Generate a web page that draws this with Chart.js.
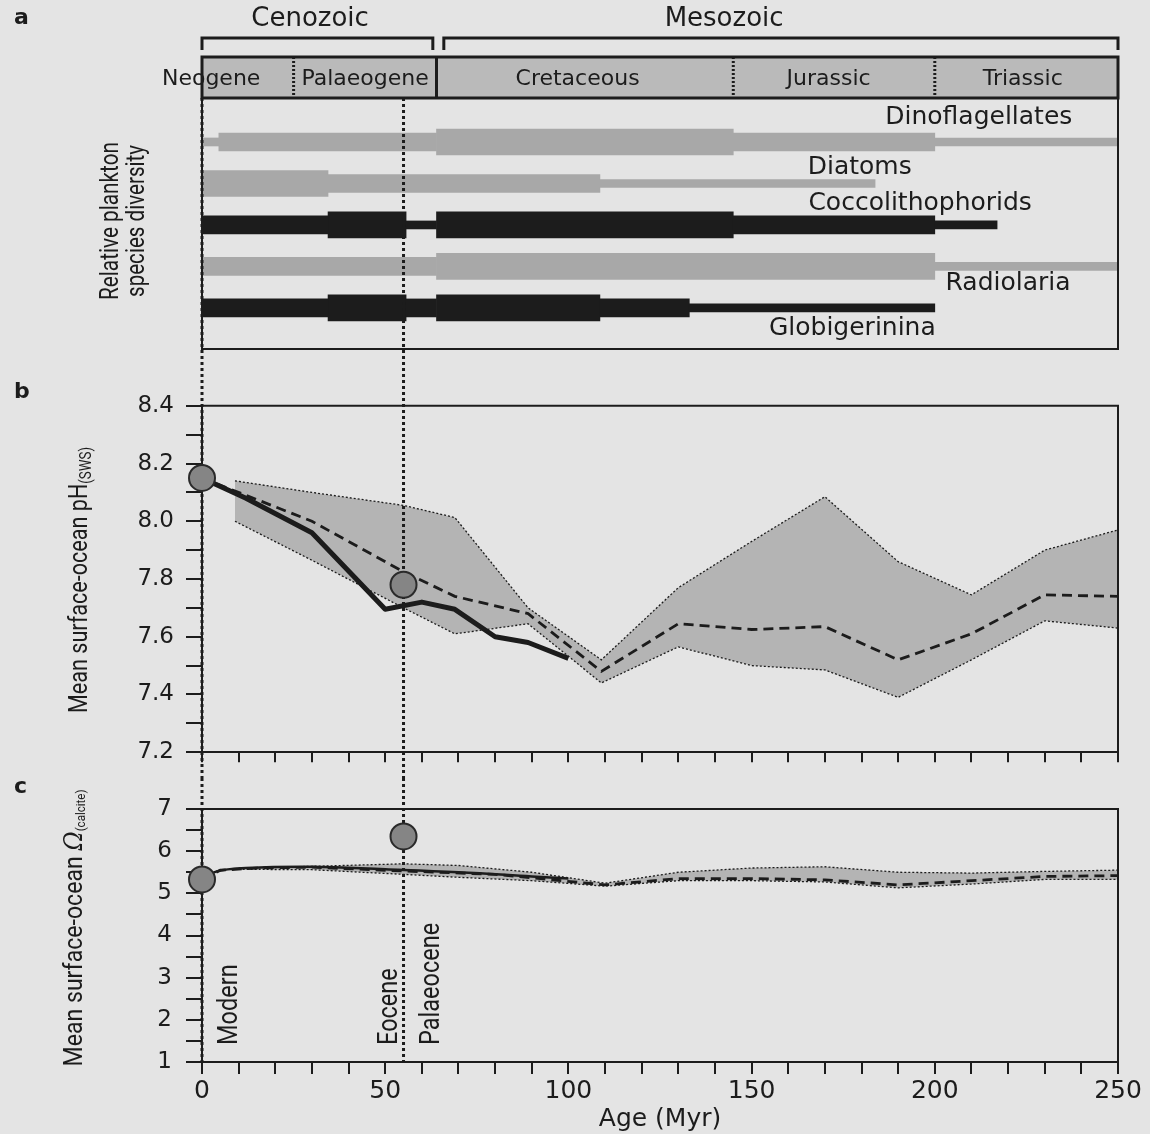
<!DOCTYPE html>
<html>
<head>
<meta charset="utf-8">
<script src="https://cdn.jsdelivr.net/npm/chart.js@4.4.1/dist/chart.umd.min.js"></script>
<style>
  body { margin: 0; background: #e4e4e4; width: 1150px; height: 1134px; overflow: hidden; position: relative; }
  canvas { position: absolute; left: 0; }
</style>
</head>
<body>
<canvas id="chartA" width="1150" height="380" style="top:0"></canvas>
<canvas id="chartB" width="1150" height="398" style="top:380px"></canvas>
<canvas id="chartC" width="1150" height="356" style="top:778px"></canvas>
<script>
// ---- panel a : time scale + plankton diversity
const eraNames = ["Cenozoic", "Mesozoic"];
const eraStart = [0, 66];
const eraEnd = [63, 250];
const eraLabelAge = [29.5, 142.5];

const periodNames = ["Neogene", "Palaeogene", "Cretaceous", "Jurassic", "Triassic"];
const periodBounds = [0, 25, 64, 145, 200, 250];
const periodLabelAge = [2.5, 44.5, 102.5, 171, 224];
const periodBreakSolid = [false, true, false, false];

const species = ["Dinoflagellates", "Diatoms", "Coccolithophorids", "Radiolaria", "Globigerinina"];
const speciesDark = [false, false, true, false, true];
const speciesLabelAge = [212, 179.5, 196, 220, 177.5];

// segments: [from Myr, to Myr, width class 1 = narrow, 2 = mid, 3 = wide]
const dinoflagellates = [[0, 4.6, 1], [4.6, 64, 2], [64, 145, 3], [145, 200, 2], [200, 250, 1]];
const diatoms = [[0, 34.4, 3], [34.4, 108.6, 2], [108.6, 183.7, 1]];
const coccolithophorids = [[0, 34.4, 2], [34.4, 55.7, 3], [55.7, 64, 1], [64, 145, 3], [145, 200, 2], [200, 217, 1]];
const radiolaria = [[0, 64, 2], [64, 200, 3], [200, 250, 1]];
const globigerinina = [[0, 34.4, 2], [34.4, 55.7, 3], [55.7, 64, 2], [64, 108.6, 3], [108.6, 133, 2], [133, 200, 1]];

// ---- shared markers
const markerAges = [0, 55];
const epochNames = ["Modern", "Eocene", "Palaeocene"];
const epochLabelAge = [7.6, 51.3, 62.8];

// ---- panel b : pH
const phAnchorAge = [0, 55];
const phAnchor = [8.15, 7.78];
const phRecordAge = [0, 12, 30, 50, 60, 69, 80, 89, 100];
const phRecord = [8.15, 8.08, 7.96, 7.695, 7.72, 7.695, 7.6, 7.58, 7.525];
const phModelAge = [0, 12, 30, 55, 69, 89, 109, 130, 150, 170, 190, 210, 230, 250];
const phModel = [8.15, 8.09, 8.0, 7.825, 7.74, 7.68, 7.48, 7.645, 7.625, 7.635, 7.52, 7.61, 7.745, 7.74];
const phBandAge = [9, 30, 55, 69, 89, 109, 130, 150, 170, 190, 210, 230, 250];
const phHigh = [8.14, 8.1, 8.055, 8.013, 7.7, 7.52, 7.77, 7.93, 8.085, 7.86, 7.745, 7.9, 7.97];
const phLow = [8.0, 7.865, 7.7, 7.61, 7.645, 7.44, 7.565, 7.5, 7.485, 7.39, 7.52, 7.655, 7.63];

// ---- panel c : omega calcite
const omAnchorAge = [0, 55];
const omAnchor = [5.33, 6.35];
const omRecordAge = [0, 4, 12, 30, 50, 70, 90, 100];
const omRecord = [5.33, 5.52, 5.6, 5.63, 5.57, 5.5, 5.4, 5.35];
const omModelAge = [0, 5, 15, 30, 55, 80, 110, 130, 150, 170, 190, 210, 230, 250];
const omModel = [5.33, 5.55, 5.6, 5.62, 5.53, 5.45, 5.2, 5.35, 5.35, 5.32, 5.2, 5.3, 5.4, 5.42];
const omBandAge = [10, 30, 55, 70, 90, 110, 130, 150, 170, 190, 210, 230, 250];
const omHigh = [5.6, 5.64, 5.7, 5.66, 5.5, 5.24, 5.5, 5.6, 5.63, 5.5, 5.48, 5.52, 5.55];
const omLow = [5.57, 5.56, 5.45, 5.38, 5.3, 5.17, 5.3, 5.3, 5.27, 5.13, 5.22, 5.33, 5.33];

const ink = "#1c1c1c";
const barGrey = "#a8a8a8";
const bandGrey = "#b4b4b4";
const stripGrey = "#bababa";
const dotGrey = "#858585";
const sans = "'DejaVu Sans', 'Open Sans', sans-serif";
const narrow = "Roboto, 'Liberation Sans', sans-serif";

const pts = (xs, ys) => xs.map((x, i) => ({ x, y: ys[i] }));

function dotted(ctx, x, y0, y1) {
  ctx.save();
  ctx.strokeStyle = ink;
  ctx.lineWidth = 3;
  ctx.setLineDash([3, 3]);
  ctx.beginPath();
  ctx.moveTo(x, y0);
  ctx.lineTo(x, y1);
  ctx.stroke();
  ctx.restore();
}

// vertical text centred on (cx, cy), squeezed to span `len` px; parts = [{t, f, dy}]
function vText(ctx, cx, cy, len, parts) {
  ctx.save();
  ctx.translate(cx, cy);
  ctx.rotate(-Math.PI / 2);
  ctx.fillStyle = ink;
  ctx.textBaseline = "middle";
  ctx.textAlign = "left";
  let total = 0;
  parts.forEach(p => { ctx.font = p.f; p.w = ctx.measureText(p.t).width; total += p.w; });
  ctx.scale(len / total, 1);
  let pos = -total / 2;
  parts.forEach(p => { ctx.font = p.f; ctx.fillText(p.t, pos, p.dy || 0); pos += p.w; });
  ctx.restore();
}

function letter(ctx, t, x, y) {
  ctx.save();
  ctx.fillStyle = ink;
  ctx.font = `bold 22px ${sans}`;
  ctx.textAlign = "left";
  ctx.textBaseline = "middle";
  ctx.fillText(t, x, y);
  ctx.restore();
}

function frameTopRight(chart) {
  const { ctx, chartArea: a } = chart;
  ctx.save();
  ctx.strokeStyle = ink;
  ctx.lineWidth = 2;
  ctx.beginPath();
  ctx.moveTo(a.left, a.top);
  ctx.lineTo(a.right, a.top);
  ctx.lineTo(a.right, a.bottom);
  ctx.stroke();
  ctx.restore();
}

// ---------- chart a
const segmentsBySpecies = [dinoflagellates, diatoms, coccolithophorids, radiolaria, globigerinina];
const widthPx = [0, 8, 18, 26];
const barDatasets = [];
[false, true].forEach(dark => {
  [1, 2, 3].forEach(cls => {
    const data = [];
    segmentsBySpecies.forEach((segs, i) => {
      if (speciesDark[i] !== dark) return;
      segs.filter(s => s[2] === cls).forEach(s => data.push({ x: [s[0], s[1]], y: i + 1 }));
    });
    barDatasets.push({
      data,
      backgroundColor: dark ? ink : barGrey,
      barThickness: widthPx[cls],
      grouped: false,
      borderWidth: 0
    });
  });
});

const diversityPlugin = {
  id: "diversity",
  afterDraw(chart) {
    const { ctx, chartArea: a, scales: { x, y } } = chart;
    ctx.save();
    ctx.strokeStyle = ink;
    ctx.fillStyle = ink;
    ctx.lineWidth = 2;
    ctx.strokeRect(a.left, a.top, a.right - a.left, a.bottom - a.top);

    // era brackets
    ctx.lineWidth = 3;
    ctx.textAlign = "center";
    ctx.textBaseline = "middle";
    eraNames.forEach((name, i) => {
      const x0 = x.getPixelForValue(eraStart[i]);
      const x1 = x.getPixelForValue(eraEnd[i]);
      ctx.beginPath();
      ctx.moveTo(x0, 50);
      ctx.lineTo(x0, 38);
      ctx.lineTo(x1, 38);
      ctx.lineTo(x1, 50);
      ctx.stroke();
      ctx.font = `26px ${sans}`;
      ctx.fillText(name, x.getPixelForValue(eraLabelAge[i]), 19);
    });

    // period strip
    const top = 57;
    ctx.fillStyle = stripGrey;
    ctx.fillRect(a.left, top, a.right - a.left, a.top - top);
    for (let i = 1; i < periodBounds.length - 1; i++) {
      const px = x.getPixelForValue(periodBounds[i]);
      ctx.save();
      ctx.lineWidth = 3;
      if (!periodBreakSolid[i - 1]) ctx.setLineDash([2, 2]);
      ctx.beginPath();
      ctx.moveTo(px, top);
      ctx.lineTo(px, a.top);
      ctx.stroke();
      ctx.restore();
    }
    ctx.lineWidth = 3;
    ctx.strokeRect(a.left, top, a.right - a.left, a.top - top);
    ctx.fillStyle = ink;
    ctx.font = `22px ${sans}`;
    periodNames.forEach((name, i) => {
      ctx.fillText(name, x.getPixelForValue(periodLabelAge[i]), 79);
    });

    // species names
    const shift = [-24, -16, -21, 17, 21];
    ctx.font = `25px ${sans}`;
    species.forEach((name, i) => {
      ctx.fillText(name, x.getPixelForValue(speciesLabelAge[i]), y.getPixelForValue(i + 1) + shift[i]);
    });
    ctx.restore();

    markerAges.forEach(m => dotted(ctx, x.getPixelForValue(m), a.top, chart.height));
    vText(ctx, 112, 221, 158, [{ t: "Relative plankton", f: `25px ${narrow}` }]);
    vText(ctx, 138, 221, 152, [{ t: "species diversity", f: `25px ${narrow}` }]);
    letter(ctx, "a", 14, 18);
  }
};

new Chart(document.getElementById("chartA"), {
  type: "bar",
  data: { datasets: barDatasets },
  options: {
    indexAxis: "y",
    responsive: false,
    animation: false,
    layout: { autoPadding: false, padding: { left: 202, right: 32, top: 98, bottom: 31 } },
    plugins: { legend: { display: false }, tooltip: { enabled: false } },
    scales: {
      x: { type: "linear", min: 0, max: 250, display: false },
      y: { type: "linear", min: -0.06, max: 5.99, reverse: true, display: false, offset: false }
    }
  },
  plugins: [diversityPlugin]
});

// ---------- shared pieces for b and c
function lineSets(bandAge, high, low, modelAge, model, recAge, rec, ancAge, anc, recWidth, recTension) {
  return [
    { data: pts(bandAge, high), borderColor: ink, borderWidth: 1.3, borderDash: [2, 2], backgroundColor: bandGrey, fill: "+1", pointRadius: 0, order: 5 },
    { data: pts(bandAge, low), borderColor: ink, borderWidth: 1.3, borderDash: [2, 2], fill: false, pointRadius: 0, order: 4 },
    { data: pts(modelAge, model), borderColor: ink, borderWidth: 2.8, borderDash: [10, 6], fill: false, pointRadius: 0, order: 3 },
    { data: pts(recAge, rec), borderColor: ink, borderWidth: recWidth, borderJoinStyle: "round", fill: false, pointRadius: 0, order: 2, tension: recTension },
    { label: "anchor", data: pts(ancAge, anc), showLine: false, clip: false, pointRadius: 13, pointBackgroundColor: dotGrey, pointBorderColor: "#2a2a2a", pointBorderWidth: 2, order: 1 }
  ];
}

function axisY(min, max, step, labelFn, pad) {
  return {
    type: "linear", min, max,
    ticks: { stepSize: step, autoSkip: false, maxTicksLimit: 200, callback: labelFn, font: { family: sans, size: 23 }, color: ink, padding: pad },
    grid: { drawOnChartArea: false, tickLength: 16, color: ink, lineWidth: 2 },
    border: { color: ink, width: 2 },
    afterFit: s => { s.width = 202; }
  };
}

function markerPlugin(toArea, decorate) {
  return {
    id: "markers",
    beforeDatasetDraw(chart, args) {
      if (chart.data.datasets[args.index].label !== "anchor") return;
      const x = chart.scales.x;
      const y1 = toArea ? chart.chartArea.bottom : chart.height;
      markerAges.forEach(m => dotted(chart.ctx, x.getPixelForValue(m), 0, y1));
    },
    afterDraw(chart) {
      frameTopRight(chart);
      decorate(chart);
    }
  };
}

// ---------- chart b
new Chart(document.getElementById("chartB"), {
  type: "line",
  data: { datasets: lineSets(phBandAge, phHigh, phLow, phModelAge, phModel, phRecordAge, phRecord, phAnchorAge, phAnchor, 5, 0) },
  options: {
    responsive: false,
    animation: false,
    layout: { autoPadding: false, padding: { left: 0, right: 32, top: 12, bottom: 0 } },
    plugins: { legend: { display: false }, tooltip: { enabled: false } },
    scales: {
      x: {
        type: "linear", min: 0, max: 250,
        ticks: { stepSize: 10, display: false, autoSkip: false, maxTicksLimit: 100 },
        grid: { drawOnChartArea: false, tickLength: 10, color: ink, lineWidth: 2 },
        border: { color: ink, width: 2 },
        afterFit: s => { s.height = 10; }
      },
      y: axisY(7.2, 8.4, 0.1, v => (Math.round(v * 10) % 2 === 0 ? v.toFixed(1) : ""), 12)
    }
  },
  plugins: [markerPlugin(false, chart => {
    const ctx = chart.ctx;
    vText(ctx, 80, 200, 266, [
      { t: "Mean surface-ocean pH", f: `26px ${narrow}` },
      { t: "(SWS)", f: `16px ${narrow}`, dy: 7 }
    ]);
    letter(ctx, "b", 14, 12);
  })]
});

// ---------- chart c
new Chart(document.getElementById("chartC"), {
  type: "line",
  data: { datasets: lineSets(omBandAge, omHigh, omLow, omModelAge, omModel, omRecordAge, omRecord, omAnchorAge, omAnchor, 2.5, 0.4) },
  options: {
    responsive: false,
    animation: false,
    layout: { autoPadding: false, padding: { left: 0, right: 32, top: 31, bottom: 0 } },
    plugins: { legend: { display: false }, tooltip: { enabled: false } },
    scales: {
      x: {
        type: "linear", min: 0, max: 250,
        ticks: { stepSize: 10, autoSkip: false, maxRotation: 0, maxTicksLimit: 100, callback: v => (v % 50 === 0 ? String(v) : ""), font: { family: sans, size: 25 }, color: ink, padding: 2 },
        grid: { drawOnChartArea: false, tickLength: 12, color: ink, lineWidth: 2 },
        border: { color: ink, width: 2 },
        title: { display: true, text: "Age (Myr)", font: { family: sans, size: 25 }, color: ink, padding: { top: 0, bottom: 0 } },
        afterFit: s => { s.height = 72; }
      },
      y: axisY(1, 7, 0.5, v => (Number.isInteger(v) ? String(v) : ""), 14)
    }
  },
  plugins: [markerPlugin(true, chart => {
    const ctx = chart.ctx;
    const x = chart.scales.x;
    vText(ctx, 75, 150, 277, [
      { t: "Mean surface-ocean ", f: `26px ${narrow}` },
      { t: "\u03A9", f: `italic 26px 'DejaVu Serif', serif` },
      { t: "(calcite)", f: `13px ${narrow}`, dy: 7 }
    ]);
    letter(ctx, "c", 14, 9);
    ctx.save();
    ctx.fillStyle = ink;
    ctx.font = `28px ${narrow}`;
    ctx.textAlign = "left";
    ctx.textBaseline = "middle";
    epochNames.forEach((name, i) => {
      ctx.save();
      ctx.translate(x.getPixelForValue(epochLabelAge[i]), chart.chartArea.bottom - 17);
      ctx.rotate(-Math.PI / 2);
      ctx.scale(0.84, 1);
      ctx.fillText(name, 0, 0);
      ctx.restore();
    });
    ctx.restore();
  })]
});
</script>
</body>
</html>
